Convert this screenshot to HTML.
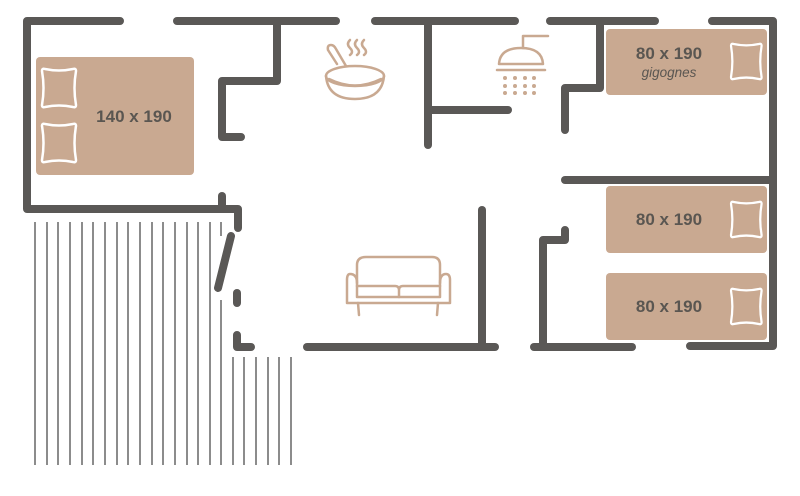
<!DOCTYPE html>
<html><head><meta charset="utf-8"><style>
html,body{margin:0;padding:0;background:#fff;}
svg{display:block;}
text{font-family:"Liberation Sans",sans-serif;fill:#5a5651;}
</style></head><body>
<svg width="800" height="496" viewBox="0 0 800 496" xmlns="http://www.w3.org/2000/svg">
<defs>
<g id="pillow">
<path d="M0,2 Q0,-1 3,0 Q17,3 31,0 Q34,-1 34,2 Q31,19 34,36 Q34,39 31,38 Q17,35 3,38 Q0,39 0,36 Q3,19 0,2Z" fill="none" stroke="#fff" stroke-width="2.5" stroke-linejoin="round"/>
</g>
</defs>
<g stroke="#666" stroke-width="1.5">
<line x1="35" y1="222" x2="35" y2="465"/><line x1="47" y1="222" x2="47" y2="465"/><line x1="58" y1="222" x2="58" y2="465"/><line x1="70" y1="222" x2="70" y2="465"/><line x1="82" y1="222" x2="82" y2="465"/><line x1="93" y1="222" x2="93" y2="465"/><line x1="105" y1="222" x2="105" y2="465"/><line x1="117" y1="222" x2="117" y2="465"/><line x1="128" y1="222" x2="128" y2="465"/><line x1="140" y1="222" x2="140" y2="465"/><line x1="152" y1="222" x2="152" y2="465"/><line x1="163" y1="222" x2="163" y2="465"/><line x1="175" y1="222" x2="175" y2="465"/><line x1="187" y1="222" x2="187" y2="465"/><line x1="198" y1="222" x2="198" y2="465"/><line x1="210" y1="222" x2="210" y2="465"/>
<line x1="221" y1="222" x2="221" y2="236"/><line x1="221" y1="300" x2="221" y2="465"/>
<line x1="233" y1="357" x2="233" y2="465"/><line x1="244" y1="357" x2="244" y2="465"/><line x1="256" y1="357" x2="256" y2="465"/><line x1="268" y1="357" x2="268" y2="465"/><line x1="279" y1="357" x2="279" y2="465"/><line x1="291" y1="357" x2="291" y2="465"/>
</g>
<g stroke="#5a5856" stroke-width="8" stroke-linecap="round" stroke-linejoin="round" fill="none">
<polyline points="120,21 27,21 27,209 238,209 238,228"/>
<line x1="222" y1="196" x2="222" y2="209"/>
<line x1="177" y1="21" x2="336" y2="21"/>
<polyline points="277,21 277,81 222,81 222,137 241,137"/>
<line x1="375" y1="21" x2="515" y2="21"/>
<line x1="428" y1="21" x2="428" y2="145"/>
<line x1="428" y1="110" x2="508" y2="110"/>
<line x1="550" y1="21" x2="655" y2="21"/>
<polyline points="600,21 600,88 565,88 565,130"/>
<polyline points="712,21 773,21 773,346 690,346"/>
<line x1="565" y1="180" x2="773" y2="180"/>
<line x1="231" y1="236" x2="218" y2="288"/>
<line x1="237" y1="293" x2="237" y2="303"/>
<polyline points="237,335 237,347 251,347"/>
<line x1="307" y1="347" x2="495" y2="347"/>
<line x1="482" y1="210" x2="482" y2="347"/>
<line x1="534" y1="347" x2="632" y2="347"/>
<polyline points="543,347 543,240 565,240 565,230"/>
</g>
<g fill="#c9a991">
<rect x="36" y="57" width="158" height="118" rx="4"/>
<rect x="606" y="29" width="161" height="66" rx="4"/>
<rect x="606" y="186" width="161" height="67" rx="4"/>
<rect x="606" y="273" width="161" height="67" rx="4"/>
</g>
<use href="#pillow" x="42" y="69"/>
<use href="#pillow" x="42" y="124"/>
<use href="#pillow" transform="translate(731,44) scale(0.9,0.92)"/>
<use href="#pillow" transform="translate(731,202) scale(0.9,0.92)"/>
<use href="#pillow" transform="translate(731,289) scale(0.9,0.92)"/>
<text x="134" y="122" font-size="17" font-weight="bold" text-anchor="middle">140 x 190</text>
<text x="669" y="59" font-size="17" font-weight="bold" text-anchor="middle">80 x 190</text>
<text x="669" y="77" font-size="13.5" font-style="italic" text-anchor="middle" fill="#4e4a46">gigognes</text>
<text x="669" y="225" font-size="17" font-weight="bold" text-anchor="middle">80 x 190</text>
<text x="669" y="312" font-size="17" font-weight="bold" text-anchor="middle">80 x 190</text>
<g stroke="#c9a991" stroke-width="2.5" fill="none" stroke-linecap="round" stroke-linejoin="round">
<path d="M337,64 L328,50 Q327,45 331,45 Q334,45 336,49 L346,66"/>
<ellipse cx="355" cy="76" rx="29" ry="10"/>
<path d="M326,76 Q328,99 355,99 Q382,99 384,76"/>
<path d="M329,79 Q355,92 381,79"/>
<path d="M350,40 Q346,44 350,48 Q354,52 350,55"/>
<path d="M357,40 Q353,44 357,48 Q361,52 357,55"/>
<path d="M364,40 Q360,44 364,48 Q368,52 364,55"/>
<path d="M548,36 L523,36 L523,48"/>
<path d="M499,64 Q500,48 521,48 Q542,48 543,64 Z"/>
<line x1="497" y1="70" x2="545" y2="70"/>
<path d="M357,283 L357,265 Q357,257 366,257 L432,257 Q440,257 440,265 L440,283"/>
<path d="M357,283 Q357,274 350,274 Q347,274 347,280 L347,303 L450,303 L450,280 Q450,274 446,274 Q440,274 440,283 L440,297 L357,297 Z"/>
<path d="M357,286 L395,286 Q399,286 399,290 L399,297 M399,290 Q399,286 403,286 L440,286"/>
<line x1="358" y1="303" x2="359" y2="315"/>
<line x1="438" y1="303" x2="437" y2="315"/>
</g>
<g fill="#c9a991">
<circle cx="505" cy="78" r="2"/><circle cx="515" cy="78" r="2"/><circle cx="525" cy="78" r="2"/><circle cx="534" cy="78" r="2"/>
<circle cx="505" cy="86" r="2"/><circle cx="515" cy="86" r="2"/><circle cx="525" cy="86" r="2"/><circle cx="534" cy="86" r="2"/>
<circle cx="505" cy="93" r="2"/><circle cx="515" cy="93" r="2"/><circle cx="525" cy="93" r="2"/><circle cx="534" cy="93" r="2"/>
</g>
</svg>
</body></html>
